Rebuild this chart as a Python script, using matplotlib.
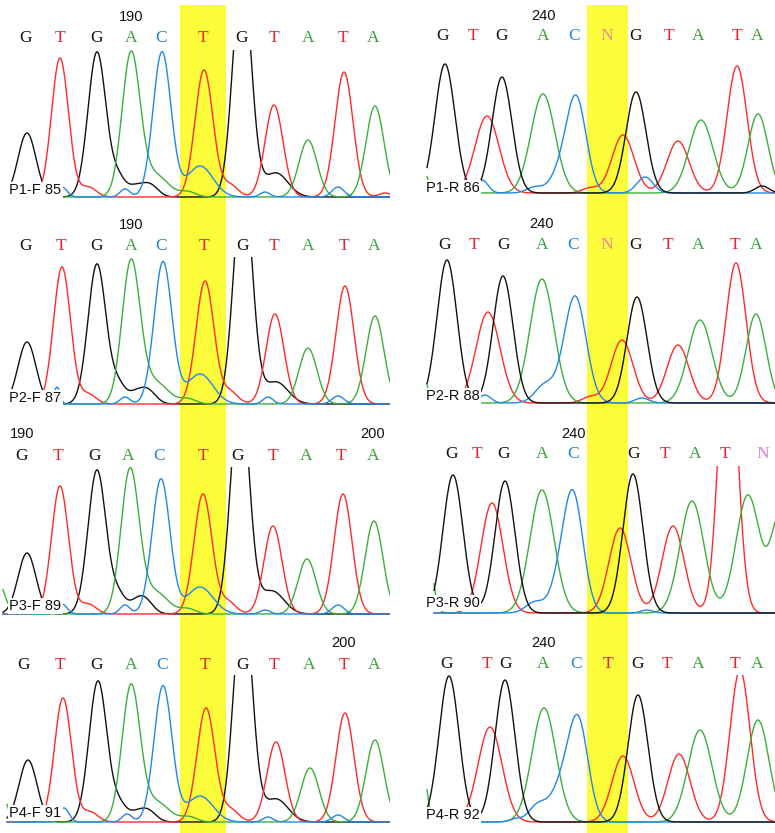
import numpy as np
import matplotlib.pyplot as plt

# base calls shown above each trace
bases_f = ["G", "T", "G", "A", "C", "T", "G", "T", "A", "T", "A"]
bases_r12 = ["G", "T", "G", "A", "C", "N", "G", "T", "A", "T", "A"]
bases_r3 = ["G", "T", "G", "A", "C", "", "G", "T", "A", "T", "N"]
bases_r4 = ["G", "T", "G", "A", "C", "T", "G", "T", "A", "T", "A"]

# scan position of each base call
p1f_pos = [26, 60, 97, 131, 161, 203, 242, 274, 308, 343, 373]
p2f_pos = [26, 61, 97, 131, 161, 204, 243, 274, 308, 344, 374]
p3f_pos = [22, 58, 95, 128, 159, 203, 238, 273, 306, 341, 373]
p4f_pos = [24, 60, 97, 131, 162, 205, 243, 274, 309, 344, 374]
p1r_pos = [53, 83, 112, 153, 184, 217, 246, 279, 308, 347, 367]
p2r_pos = [55, 84, 113, 152, 183, 217, 246, 278, 308, 345, 366]
p3r_pos = [62, 87, 114, 152, 183, 213, 243, 275, 305, 335, 373]
p4r_pos = [57, 97, 115, 153, 186, 218, 247, 277, 308, 345, 367]

# numbering (base index, label)
p1f_nums = [(3, "190")]
p2f_nums = [(3, "190")]
p3f_nums = [(0, "190"), (10, "200")]
p4f_nums = [(9, "200")]
p1r_nums = [(3, "240")]
p2r_nums = [(3, "240")]
p3r_nums = [(4, "240")]
p4r_nums = [(3, "240")]

# peaks: (channel, scan position, height, width)
p1f_peaks = [
    ("G", 27, 64, 9), ("G", 97, 145, 9), ("G", 118, 18, 7), ("G", 135, 10, 8),
    ("G", 150, 12, 8), ("G", 242, 230, 9), ("G", 276, 24, 12),
    ("T", 60, 139, 8.5), ("T", 88, 10, 8), ("T", 204, 127, 9), ("T", 230, 12, 8),
    ("T", 274, 92, 9), ("T", 344, 125, 9), ("T", 385, 4, 6),
    ("A", 131, 142, 9), ("A", 155, 22, 13), ("A", 188, 5, 8), ("A", 308, 57, 9),
    ("A", 375, 91, 9),
    ("C", 162, 145, 9), ("C", 62, 10, 5), ("C", 125, 8, 5), ("C", 200, 31, 13),
    ("C", 265, 5, 5), ("C", 338, 10, 6),
]
p2f_peaks = [
    ("G", 27, 62, 9), ("G", 97, 140, 9), ("G", 118, 18, 7), ("G", 135, 10, 8),
    ("G", 148, 13, 8), ("G", 243, 230, 9), ("G", 276, 22, 12),
    ("T", 62, 137, 8.5), ("T", 88, 10, 8), ("T", 205, 123, 9), ("T", 230, 12, 8),
    ("T", 275, 90, 9), ("T", 345, 118, 9),
    ("A", 131, 141, 9), ("A", 155, 22, 13), ("A", 188, 5, 8), ("A", 308, 56, 9),
    ("A", 375, 88, 9),
    ("C", 163, 142, 9), ("C", 57, 17, 3), ("C", 125, 7, 5), ("C", 200, 30, 13),
    ("C", 268, 7, 5), ("C", 338, 8, 6),
]
p3f_peaks = [
    ("G", 27, 61, 9), ("G", 97, 144, 9), ("G", 118, 18, 7), ("G", 135, 9, 8),
    ("G", 145, 13, 8), ("G", 240, 230, 9), ("G", 272, 23, 12),
    ("T", 60, 128, 8.5), ("T", 88, 10, 8), ("T", 203, 120, 9), ("T", 228, 12, 8),
    ("T", 273, 88, 9), ("T", 343, 120, 9),
    ("A", -5, 40, 8), ("A", 130, 143, 9), ("A", 155, 22, 13), ("A", 188, 5, 8),
    ("A", 307, 55, 9), ("A", 374, 93, 9),
    ("C", 161, 135, 9), ("C", 62, 10, 5), ("C", 125, 9, 5), ("C", 200, 27, 13),
    ("C", 265, 4, 5), ("C", 338, 9, 6),
]
p4f_peaks = [
    ("G", 28, 62, 9), ("G", 98, 141, 9), ("G", 119, 16, 7), ("G", 135, 8, 8),
    ("G", 148, 11, 8), ("G", 243, 230, 9), ("G", 276, 23, 12),
    ("T", 63, 124, 8.5), ("T", 90, 10, 8), ("T", 206, 114, 9), ("T", 231, 12, 8),
    ("T", 276, 80, 9), ("T", 345, 109, 9),
    ("A", -2, 40, 7), ("A", 131, 135, 9), ("A", 156, 20, 13), ("A", 189, 5, 8),
    ("A", 310, 54, 9), ("A", 375, 82, 9),
    ("C", 163, 136, 9), ("C", 64, 14, 5), ("C", 127, 8, 5), ("C", 200, 26, 13),
    ("C", 268, 5, 5), ("C", 338, 7, 6),
]
p1r_peaks = [
    ("G", 55, 129, 10), ("G", 112, 116, 10), ("G", 246, 101, 10), ("G", 372, 7, 7),
    ("T", 97, 77, 12), ("T", 200, 5, 8), ("T", 233, 58, 11), ("T", 288, 52, 11),
    ("T", 347, 127, 10),
    ("A", 25, 50, 8), ("A", 153, 99, 12), ("A", 311, 73, 12), ("A", 368, 79, 10),
    ("C", 186, 96, 10), ("C", 168, 15, 9), ("C", 92, 13, 6), ("C", 145, 6, 8),
    ("C", 255, 16, 8),
]
p2r_peaks = [
    ("G", 57, 143, 10), ("G", 113, 127, 10), ("G", 247, 106, 10),
    ("T", 98, 91, 12), ("T", 200, 6, 8), ("T", 232, 63, 11), ("T", 288, 58, 11),
    ("T", 346, 140, 10),
    ("A", 25, 55, 8), ("A", 152, 124, 12), ("A", 310, 83, 12), ("A", 366, 89, 10),
    ("C", 185, 107, 11), ("C", 155, 18, 10), ("C", 95, 8, 6), ("C", 252, 5, 7),
]
p3r_peaks = [
    ("G", 63, 138, 10), ("G", 115, 132, 10), ("G", 243, 139, 10),
    ("T", 102, 110, 11), ("T", 230, 85, 11), ("T", 283, 87, 11), ("T", 338, 300, 9),
    ("A", 35, 90, 6), ("A", 152, 123, 12), ("A", 302, 112, 12), ("A", 358, 118, 12),
    ("A", 390, 95, 9),
    ("C", 183, 118, 10), ("C", 168, 20, 9), ("C", 145, 11, 9), ("C", 257, 3, 6),
]
p4r_peaks = [
    ("G", 59, 146, 10), ("G", 115, 142, 10), ("G", 248, 127, 10),
    ("T", 100, 95, 12), ("T", 233, 66, 11), ("T", 289, 68, 11), ("T", 350, 152, 10),
    ("A", 28, 100, 6), ("A", 154, 114, 12), ("A", 310, 92, 12), ("A", 368, 102, 11),
    ("C", 188, 101, 10), ("C", 170, 30, 10), ("C", 148, 17, 9), ("C", 125, 3, 6),
]

trace_colors = {"G": "#111111", "T": "#ff2a2a", "A": "#3cae3c", "C": "#1f88e8"}
letter_colors = {"G": "#111111", "T": "#e8202a", "A": "#3a9e3a", "C": "#1c86d8",
                 "N": "#f0889c", "": "#ffffff"}

W, H = 775, 833
col_x = [0, 390]
col_w = [390, 385]
clip_top = 147
pad_bottom = 10

# col, baseline, letter row, number row, first scan, label, label height, ...
panels = [
    (0, 197, 38, 17, 12, "P1-F 85", 7, bases_f, p1f_pos, p1f_nums, p1f_peaks, "#f0889c"),
    (0, 404, 246, 225, 12, "P2-F 87", 6, bases_f, p2f_pos, p2f_nums, p2f_peaks, "#f0889c"),
    (0, 614, 456, 434, 3, "P3-F 89", 8, bases_f, p3f_pos, p3f_nums, p3f_peaks, "#f0889c"),
    (0, 822, 665, 643, 7, "P4-F 91", 9, bases_f, p4f_pos, p4f_nums, p4f_peaks, "#f0889c"),
    (1, 193, 36, 16, 37, "P1-R 86", 5, bases_r12, p1r_pos, p1r_nums, p1r_peaks, "#f0889c"),
    (1, 403, 245, 224, 37, "P2-R 88", 7, bases_r12, p2r_pos, p2r_nums, p2r_peaks, "#f0889c"),
    (1, 613, 454, 434, 44, "P3-R 90", 10, bases_r3, p3r_pos, p3r_nums, p3r_peaks, "#e07fd2"),
    (1, 822, 664, 643, 37, "P4-R 92", 7, bases_r4, p4r_pos, p4r_nums, p4r_peaks, "#f0889c"),
]

fig = plt.figure(figsize=(W / 100, H / 100), dpi=100)

# yellow highlight of the variant position, full column height
highlight = [(p1f_pos[5], 23), (p1r_pos[5], 20.5)]
for c in range(2):
    bg = fig.add_axes([col_x[c] / W, 0, col_w[c] / W, (H - 5) / H], zorder=0)
    bg.set_xlim(0, col_w[c])
    bg.axvspan(highlight[c][0] - highlight[c][1], highlight[c][0] + highlight[c][1],
               color="#fcfc3a", lw=0)
    bg.axis("off")

order = {0: ["G", "T", "A", "C"], 1: ["T", "A", "C", "G"]}

for (c, base_y, let_y, num_y, x0, label, lab_h, bases, pos, nums, peaks, ncol) in panels:
    ax = fig.add_axes([col_x[c] / W, (H - base_y - pad_bottom) / H,
                       col_w[c] / W, (clip_top + pad_bottom) / H], zorder=1)
    ax.set_xlim(0, col_w[c])
    ax.set_ylim(-pad_bottom, clip_top)
    ax.patch.set_alpha(0)
    ax.axis("off")

    x = np.arange(x0, col_w[c] + 0.5, 0.5)
    for ch in order[c]:
        y = np.zeros_like(x)
        for b, cx, h, w in peaks:
            if b == ch:
                y += h * np.exp(-(x - cx) ** 2 / (2 * w ** 2))
        ax.plot(x, y, color=trace_colors[ch], lw=1.0, zorder=2)

    for b, px in zip(bases, pos):
        col = ncol if b == "N" else letter_colors[b]
        ax.text(px, base_y - let_y, b, color=col, ha="center", va="center",
                fontsize=12.5, family="Liberation Serif", clip_on=False)
    for i, t in nums:
        ax.text(pos[i], base_y - num_y, t, color="#111111", ha="center",
                va="center", fontsize=10.5, family="Liberation Sans", clip_on=False)

    lx = 9 if c == 0 else 36
    ax.text(lx, lab_h, label, fontsize=10.5, family="Liberation Sans", color="#111111",
            ha="left", va="center", zorder=5,
            bbox=dict(fc="white", ec="none", pad=1.0))

fig.savefig("out.png", dpi=100)
